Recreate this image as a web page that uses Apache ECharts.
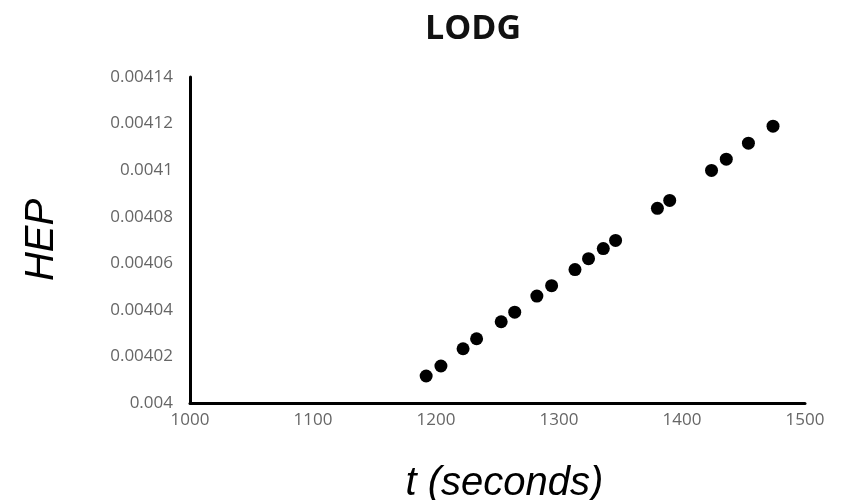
<!DOCTYPE html>
<html>
<head>
<meta charset="utf-8">
<script src="https://cdn.jsdelivr.net/npm/echarts@6/dist/echarts.min.js"></script>
<style>
  html, body { margin: 0; padding: 0; background: #fff; }
  #app { width: 842px; height: 500px; }
</style>
</head>
<body>
<div id="app"></div>
<script>
// time in seconds
const times = [1192, 1204, 1222, 1233, 1253, 1264, 1282, 1294, 1313, 1324,
  1336, 1346, 1380, 1390, 1424, 1436, 1454, 1474];
// HEP values
const hep = [0.0040116, 0.0040159, 0.0040233, 0.0040276, 0.0040349, 0.0040390,
  0.0040459, 0.0040504, 0.0040573, 0.0040620, 0.0040663, 0.0040698,
  0.0040836, 0.0040870, 0.0040999, 0.0041047, 0.0041116, 0.0041189];

const points = times.map((t, i) => [t, hep[i]]);

const chart = echarts.init(document.getElementById("app"));

chart.setOption({
  backgroundColor: "#fff",
  animation: false,
  title: {
    text: "LODG",
    left: 420,
    top: 7,
    textStyle: {
      fontFamily: "Open Sans",
      fontWeight: "bold",
      fontSize: 34,
      color: "#111"
    }
  },
  grid: { left: 190, right: 37, top: 77, bottom: 97, outerBoundsMode: "none", containLabel: false },
  xAxis: {
    type: "value",
    min: 1000,
    max: 1500,
    interval: 100,
    name: "t (seconds)",
    nameLocation: "middle",
    nameGap: 61,
    nameTextStyle: {
      fontFamily: "Liberation Sans",
      fontStyle: "italic",
      fontSize: 40,
      color: "#000",
      padding: [0, 0, 0, 14]
    },
    axisLine: { lineStyle: { color: "#000", width: 3 } },
    axisTick: { show: false },
    splitLine: { show: false },
    axisLabel: {
      margin: 9,
      fontFamily: "Open Sans",
      fontSize: 17,
      color: "#666",
      formatter: v => String(v)
    }
  },
  yAxis: {
    type: "value",
    min: 0.004,
    max: 0.00414,
    interval: 0.00002,
    name: "HEP",
    nameLocation: "middle",
    nameGap: 128,
    nameTextStyle: {
      fontFamily: "Liberation Sans",
      fontStyle: "italic",
      fontSize: 40,
      color: "#000"
    },
    axisLine: { show: true, lineStyle: { color: "#000", width: 3 } },
    axisTick: { show: false },
    splitLine: { show: false },
    axisLabel: {
      margin: 17,
      fontFamily: "Open Sans",
      fontSize: 17,
      color: "#666",
      formatter: v => String(+v.toFixed(5))
    }
  },
  series: [{
    type: "scatter",
    data: points,
    symbolSize: 13,
    itemStyle: { color: "#000", opacity: 1 }
  }]
});
</script>
</body>
</html>
